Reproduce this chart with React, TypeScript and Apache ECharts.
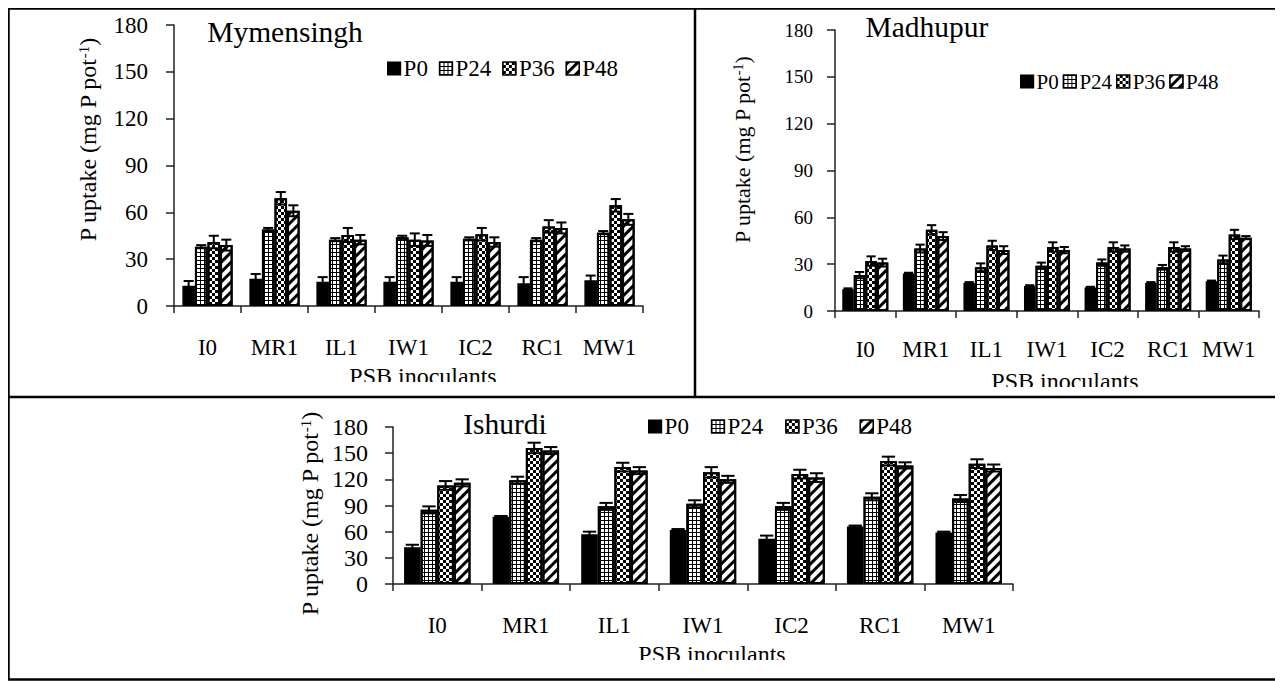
import React, { useEffect, useRef } from 'react';
import * as echarts from 'echarts';

const categories = ['I0', 'MR1', 'IL1', 'IW1', 'IC2', 'RC1', 'MW1'];
const seriesNames = ['P0', 'P24', 'P36', 'P48'];
const yMin = 0;
const yMax = 180;
const yStep = 30;

// Mymensingh
const mymP0 = [13, 17.5, 15.5, 15.5, 15.5, 14.5, 16.5];
const mymP24 = [38, 49, 42.5, 44, 43, 42.5, 47];
const mymP36 = [41, 69, 45.5, 42.5, 46, 51, 64.5];
const mymP48 = [39, 61, 42.5, 42, 41, 50, 55.5];
const mymErrP0 = [3, 3, 3, 3, 3, 4, 3];
const mymErrP24 = [1, 1, 1, 1, 1, 1, 1];
const mymErrP36 = [4, 4, 4.5, 4, 4, 4, 4];
const mymErrP48 = [3.5, 3.5, 3, 3.5, 3, 3.5, 3.5];

// Madhupur
const madP0 = [14, 24, 18, 16, 15, 18, 19];
const madP24 = [23, 40, 28, 29, 31, 28, 33];
const madP36 = [32, 52, 42, 41, 41, 41, 49];
const madP48 = [31, 48, 39, 39, 40, 40, 47];
const madErrP0 = [0.5, 0.5, 0.5, 0.5, 0.5, 0.5, 0.5];
const madErrP24 = [2, 2.5, 2.5, 2, 2, 1.5, 2.5];
const madErrP36 = [3, 3, 3, 3, 3, 3, 3];
const madErrP48 = [2.5, 2.5, 2.5, 2, 2, 1.5, 1];

// Ishurdi
const ishP0 = [42, 77, 57, 62, 52, 66, 59];
const ishP24 = [85, 119, 89, 92, 89, 100, 98];
const ishP36 = [113, 156, 134, 128, 126, 141, 138];
const ishP48 = [116, 153, 130, 120, 122, 136, 133];
const ishErrP0 = [3, 1, 3, 1, 3.5, 1, 1];
const ishErrP24 = [4, 4, 4, 4, 4, 4, 4];
const ishErrP36 = [5, 6, 5, 6, 5, 5, 5];
const ishErrP48 = [4, 4, 4, 4, 5, 3.5, 4];

const FONT = "'Liberation Serif', 'Times New Roman', serif";

// page offset (body margin)
const OX = 8;
const OY = 8;

const panels = [
  {
    title: 'Mymensingh',
    values: [mymP0, mymP24, mymP36, mymP48],
    errors: [mymErrP0, mymErrP24, mymErrP36, mymErrP48],
    layout: {
      titleX: 285, titleY: 32, titleFont: 29.5,
      grid: { left: 174, top: 25, width: 469, height: 281 },
      catGap: 0.25,
      tickFont: 23, tickMargin: 26,
      catFont: 23, catMargin: 30,
      legend: { left: 387, top: 57, gap: 11, font: 23 },
      yName: { x: 88, y: 140, font: 24 },
      xName: { x: 423, y: 376, font: 24 },
      xNameCut: { x: 340, y: 382, w: 170, h: 13 },
    },
  },
  {
    title: 'Madhupur',
    values: [madP0, madP24, madP36, madP48],
    errors: [madErrP0, madErrP24, madErrP36, madErrP48],
    layout: {
      titleX: 927, titleY: 27, titleFont: 29.5,
      grid: { left: 835, top: 30, width: 424, height: 281 },
      catGap: 0.24,
      tickFont: 19, tickMargin: 22,
      catFont: 23, catMargin: 27,
      legend: { left: 1020, top: 71, gap: 4, font: 21 },
      yName: { x: 742, y: 150, font: 22 },
      xName: { x: 1065, y: 381, font: 24 },
      xNameCut: { x: 982, y: 387, w: 166, h: 8 },
    },
  },
  {
    title: 'Ishurdi',
    values: [ishP0, ishP24, ishP36, ishP48],
    errors: [ishErrP0, ishErrP24, ishErrP36, ishErrP48],
    layout: {
      titleX: 505, titleY: 424, titleFont: 29.5,
      grid: { left: 393, top: 427, width: 620, height: 157 },
      catGap: 0.25,
      tickFont: 24, tickMargin: 25,
      catFont: 23, catMargin: 30,
      legend: { left: 648, top: 415, gap: 22, font: 23 },
      yName: { x: 310, y: 514, font: 24 },
      xName: { x: 712, y: 654, font: 24 },
      xNameCut: { x: 628, y: 660, w: 168, h: 16 },
    },
  },
];

const decals: any[] = [
  null,
  {
    symbol: 'rect', symbolSize: 1, color: '#000000',
    dashArrayX: [[1, 0], [1, 3]], dashArrayY: [1, 0, 3, 0], rotation: 0,
  },
  {
    symbol: 'rect', symbolSize: 1, color: '#000000',
    dashArrayX: [[3, 3], [0, 3, 3, 0]], dashArrayY: [3, 0], rotation: 0,
  },
  {
    symbol: 'rect', symbolSize: 1, color: '#000000',
    dashArrayX: [1, 0], dashArrayY: [2.2, 3.5], rotation: -Math.PI / 4,
  },
];

function buildOption() {
  const grids: any[] = [];
  const xAxes: any[] = [];
  const yAxes: any[] = [];
  const series: any[] = [];
  const legends: any[] = [];
  const graphics: any[] = [];

  panels.forEach((p, pi) => {
    const L = p.layout;
    grids.push({
      left: L.grid.left - OX, top: L.grid.top - OY, width: L.grid.width, height: L.grid.height,
      containLabel: false, outerBoundsMode: 'none',
    });
    xAxes.push({
      type: 'category', gridIndex: pi, data: categories, boundaryGap: true,
      axisLine: { show: true, lineStyle: { color: '#222', width: 1.5 } },
      axisTick: { show: true, length: 7, alignWithLabel: false, lineStyle: { color: '#222', width: 1.5 } },
      axisLabel: { fontSize: L.catFont, fontFamily: FONT, color: '#000', margin: L.catMargin, interval: 0 },
      splitLine: { show: false },
    });
    yAxes.push({
      type: 'value', gridIndex: pi, min: yMin, max: yMax, interval: yStep,
      axisLine: { show: true, lineStyle: { color: '#222', width: 1.5 } },
      axisTick: { show: true, length: 8, lineStyle: { color: '#222', width: 1.5 } },
      axisLabel: { fontSize: L.tickFont, fontFamily: FONT, color: '#000', margin: L.tickMargin },
      splitLine: { show: false },
    });
    seriesNames.forEach((name, si) => {
      series.push({
        type: 'bar', name, xAxisIndex: pi, yAxisIndex: pi,
        data: p.values[si],
        barGap: '0%', barCategoryGap: `${L.catGap * 100}%`,
        itemStyle: si === 0
          ? { color: '#000', borderColor: '#000', borderWidth: 1.5 }
          : { color: '#fff', borderColor: '#000', borderWidth: 2, decal: decals[si] },
        emphasis: { disabled: true },
        z: 2,
      });
    });
    const errData: number[][] = [];
    seriesNames.forEach((_, si) => {
      categories.forEach((_, ci) => {
        errData.push([ci, p.values[si][ci], p.errors[si][ci], si]);
      });
    });
    const catGap = L.catGap;
    series.push({
      type: 'custom', name: 'err' + pi, xAxisIndex: pi, yAxisIndex: pi,
      data: errData, encode: { x: 0, y: 1 }, z: 5, silent: true,
      renderItem: (params: any, api: any) => {
        const c = api.value(0);
        const v = api.value(1);
        const e = api.value(2);
        const s = api.value(3);
        const band = api.size([1, 0])[0];
        const inner = band * (1 - catGap);
        const bw = inner / 4;
        const center = api.coord([c, v]);
        const x = center[0] - inner / 2 + bw * (s + 0.5);
        const top = api.coord([c, v + e])[1];
        const bot = api.coord([c, v - e])[1];
        const half = bw * 0.4;
        const st = { stroke: '#000', lineWidth: 2 };
        return {
          type: 'group',
          children: [
            { type: 'line', shape: { x1: x, y1: top, x2: x, y2: bot }, style: st },
            { type: 'line', shape: { x1: x - half, y1: top, x2: x + half, y2: top }, style: st },
            { type: 'line', shape: { x1: x - half, y1: bot, x2: x + half, y2: bot }, style: st },
          ],
        };
      },
    });
    legends.push({
      left: L.legend.left - OX, top: L.legend.top - OY, orient: 'horizontal', padding: 0,
      itemWidth: 13, itemHeight: 13, itemGap: L.legend.gap, icon: 'rect',
      selectedMode: false, data: seriesNames,
      itemStyle: { borderColor: '#000', borderWidth: 1.2 },
      textStyle: { fontSize: L.legend.font, fontFamily: FONT, color: '#000', padding: [0, 0, 0, -2] },
    });
    graphics.push({
      type: 'text', x: L.titleX - OX, y: L.titleY - OY, z: 1,
      style: {
        text: p.title, fontSize: L.titleFont, fontFamily: FONT, fill: '#000',
        align: 'center', verticalAlign: 'middle', textAlign: 'center', textVerticalAlign: 'middle',
      },
    });
    graphics.push({
      type: 'text', x: L.yName.x - OX, y: L.yName.y - OY, rotation: Math.PI / 2, z: 1,
      style: {
        text: '{a|P uptake (mg P pot}{s|-1}{a|)}',
        fontFamily: FONT, fontSize: L.yName.font,
        rich: {
          a: { fontSize: L.yName.font, fontFamily: FONT, fill: '#000', verticalAlign: 'bottom' },
          s: { fontSize: Math.round(L.yName.font * 0.62), fontFamily: FONT, fill: '#000', verticalAlign: 'top' },
        },
        align: 'center', verticalAlign: 'middle', textAlign: 'center', textVerticalAlign: 'middle',
      },
    });
    graphics.push({
      type: 'text', x: L.xName.x - OX, y: L.xName.y - OY, z: 1,
      style: {
        text: 'PSB inoculants', fontSize: L.xName.font, fontFamily: FONT, fill: '#000',
        align: 'center', verticalAlign: 'middle', textAlign: 'center', textVerticalAlign: 'middle',
      },
    });
    // the source figure crops the bottom of the axis title
    graphics.push({
      type: 'rect', z: 2, silent: true,
      shape: { x: L.xNameCut.x - OX, y: L.xNameCut.y - OY, width: L.xNameCut.w, height: L.xNameCut.h },
      style: { fill: '#fff', stroke: 'none' },
    });
  });

  // panel frame (page coords converted)
  graphics.push({
    type: 'rect', shape: { x: 8 - OX + 0.5, y: 8 - OY + 0.5, width: 1272, height: 671 },
    style: { fill: 'none', stroke: '#000', lineWidth: 2.5 }, z: 10,
  });
  graphics.push({
    type: 'line', shape: { x1: 695 - OX, y1: 8 - OY, x2: 695 - OX, y2: 397 - OY },
    style: { stroke: '#000', lineWidth: 2.5 }, z: 10,
  });
  graphics.push({
    type: 'line', shape: { x1: 8 - OX, y1: 397 - OY, x2: 1280 - OX, y2: 397 - OY },
    style: { stroke: '#000', lineWidth: 2.5 }, z: 10,
  });

  return {
    animation: false,
    backgroundColor: '#fff',
    textStyle: { fontFamily: FONT },
    grid: grids,
    xAxis: xAxes,
    yAxis: yAxes,
    legend: legends,
    series,
    graphic: graphics,
    tooltip: { show: false },
  };
}

export default function App() {
  const ref = useRef<HTMLDivElement | null>(null);
  useEffect(() => {
    if (!ref.current) return;
    const chart = echarts.init(ref.current, null, { renderer: 'svg' });
    chart.setOption(buildOption() as any);
    return () => chart.dispose();
  }, []);
  return <div ref={ref} style={{ width: 1275, height: 673, background: '#fff' }} />;
}
